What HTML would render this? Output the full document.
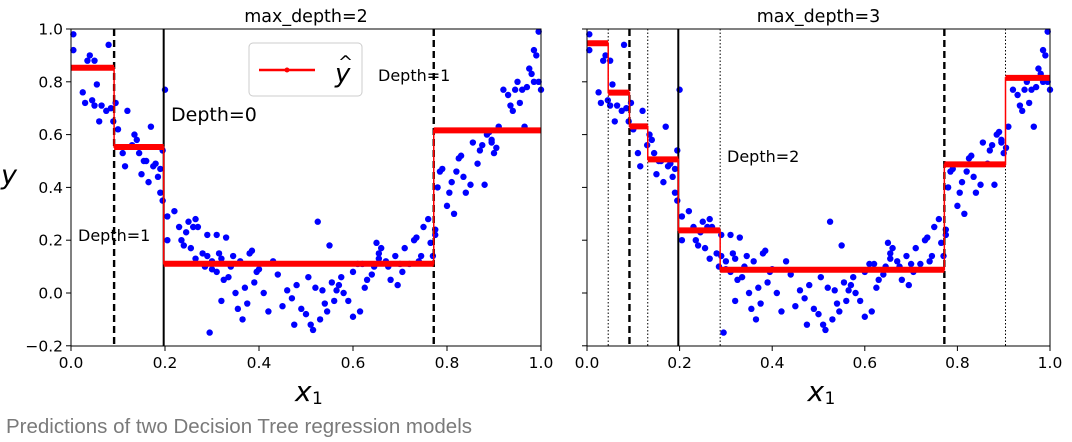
<!DOCTYPE html>
<html><head><meta charset="utf-8"><style>
body{margin:0;background:#fff;width:1072px;height:442px;overflow:hidden;font-family:"DejaVu Sans","Liberation Sans",sans-serif}
svg{position:absolute;left:0;top:0}
#cap{position:absolute;left:6px;top:415px;font-size:20.5px;color:#7a7a7a;font-family:"Liberation Sans",sans-serif}
</style></head><body>
<svg id="chart" width="1072" height="412" xmlns="http://www.w3.org/2000/svg"></svg>
<div id="cap">Predictions of two Decision Tree regression models</div>
<script>
const xs = [0.005,0.005,0.035,0.04,0.05,0.055,0.025,0.045,0.05,0.065,0.075,0.03,0.06,0.08,0.085,0.09,
0.095,0.10,0.11,0.115,0.12,0.13,0.135,0.14,0.145,0.15,0.155,0.16,0.165,0.17,0.175,0.18,0.185,0.19,0.19,0.195,0.195,0.2,
0.205,0.205,0.22,0.23,0.235,0.24,0.245,0.25,0.255,0.26,0.265,0.265,0.27,0.28,0.285,0.29,0.29,0.295,0.30,0.30,0.31,
0.31,0.315,0.32,0.32,0.325,0.33,0.335,0.34,0.345,0.35,0.355,0.36,0.365,0.37,0.375,0.38,0.385,0.39,0.395,0.40,
0.41,0.42,0.43,0.44,0.45,0.46,0.47,0.475,0.48,0.49,0.5,0.505,0.51,0.515,0.52,0.525,0.53,0.535,0.54,0.545,
0.55,0.555,0.56,0.565,0.57,0.575,0.58,0.59,0.60,0.60,0.61,0.615,0.62,0.625,0.63,0.64,0.645,0.65,0.655,0.655,
0.66,0.67,0.675,0.68,0.69,0.695,0.70,0.705,0.71,0.72,0.73,0.735,0.74,0.745,0.75,0.76,0.765,0.77,0.775,0.775,
0.78,0.785,0.79,0.80,0.805,0.81,0.815,0.82,0.825,0.83,0.835,0.84,0.85,0.855,0.865,0.87,0.875,0.88,0.885,0.89,0.895,0.895,0.9,
0.905,0.91,0.92,0.93,0.935,0.94,0.945,0.95,0.955,0.96,0.965,0.97,0.975,0.98,0.985,0.99,0.995,0.995,1.0,0.985];
const ys = [0.98,0.92,0.88,0.9,0.88,0.79,0.76,0.73,0.71,0.71,0.69,0.72,0.65,0.94,0.70,0.65,
0.72,0.62,0.53,0.48,0.69,0.56,0.60,0.58,0.53,0.45,0.50,0.50,0.42,0.63,0.48,0.49,0.44,0.47,0.38,0.35,0.54,0.77,
0.29,0.20,0.31,0.25,0.20,0.18,0.23,0.27,0.17,0.25,0.28,0.13,0.25,0.15,0.10,0.14,0.22,-0.15,0.12,0.09,0.08,
0.22,0.15,0.13,-0.03,0.05,0.21,0.06,0.10,0.14,0.0,-0.06,0.12,-0.1,0.02,-0.04,0.15,0.16,0.04,0.08,0.09,
0.0,-0.07,0.12,0.07,-0.05,0.01,-0.02,-0.12,0.03,-0.06,-0.08,0.06,-0.12,-0.14,0.02,0.27,-0.10,0.01,-0.04,-0.07,
0.18,0.04,-0.03,0.01,0.03,0.06,0.00,-0.03,0.08,-0.09,0.11,-0.07,0.11,0.02,0.05,0.07,0.10,0.19,0.15,0.13,
0.17,0.12,0.10,0.05,0.14,0.03,0.11,0.08,0.17,0.11,0.2,0.21,0.12,0.14,0.25,0.28,0.19,0.14,0.24,0.22,
0.40,0.46,0.47,0.33,0.38,0.42,0.30,0.46,0.51,0.52,0.44,0.38,0.41,0.57,0.49,0.54,0.56,0.41,0.60,0.61,0.58,0.57,0.53,
0.55,0.63,0.77,0.75,0.71,0.69,0.77,0.80,0.72,0.77,0.63,0.78,0.85,0.83,0.80,0.90,0.99,0.80,0.77,0.92];
const splits1 = [0.0917,0.1972,0.7718];
const values1 = [0.853,0.553,0.111,0.616];
const splits2 = [0.0458,0.0917,0.1312,0.1972,0.2876,0.7718,0.9039];
const values2 = [0.946,0.759,0.631,0.506,0.237,0.088,0.487,0.815];
const xTicks = [0,0.2,0.4,0.6,0.8,1.0];
const xTickLabels = ["0.0","0.2","0.4","0.6","0.8","1.0"];
const yTicks = [-0.2,0,0.2,0.4,0.6,0.8,1.0];
const yTickLabels = ["\u22120.2","0.0","0.2","0.4","0.6","0.8","1.0"];

const NS="http://www.w3.org/2000/svg", svg=document.getElementById('chart');
function mk(tag,at,parent,txt){const e=document.createElementNS(NS,tag);for(const k in at)e.setAttribute(k,at[k]);if(txt!==undefined)e.textContent=txt;(parent||svg).appendChild(e);return e;}
const Y0=29,Y1=346; const yS=v=>293-264*v;

function panel(L,R,splits,vals,title,showY,solidIdx,dashIdx,dotIdx,name){
  const g=mk('g',{});  
  const xS=v=>L+(R-L)*v;
  for(let i=0;i<xs.length;i++){const c=mk('circle',{cx:xS(xs[i]),cy:yS(ys[i]),r:3.2,fill:'#0000ff'},g);
    }
  splits.forEach((s,i)=>{
    let at={x1:xS(s),x2:xS(s),y1:Y0,y2:Y1,stroke:'#000'};
    if(solidIdx.includes(i)){at['stroke-width']=2;}
    else if(dashIdx.includes(i)){at['stroke-width']=2.4;at['stroke-dasharray']='7,4';}
    else if(dotIdx.includes(i)){at['stroke-width']=1;at['stroke-dasharray']='1.5,2';}
    else return;
    const l=mk('line',at,g);});
  const b=[0,...splits,1]; let d='';
  vals.forEach((v,i)=>{d+=(i?'L':'M')+xS(b[i])+' '+yS(v)+' L'+xS(b[i+1])+' '+yS(v)+' ';});
  const p=mk('path',{d:d,fill:'none',stroke:'#ff0000','stroke-width':1.5},g);
  
  vals.forEach((v,i)=>{const s=mk('line',{x1:xS(b[i]),x2:xS(b[i+1]),y1:yS(v),y2:yS(v),stroke:'#ff0000','stroke-width':6},g);
    });
  const f=mk('rect',{x:L,y:Y0,width:R-L,height:Y1-Y0,fill:'none',stroke:'#000','stroke-width':1},g);
  
  xTicks.forEach((t,i)=>{mk('line',{x1:xS(t),x2:xS(t),y1:Y1,y2:Y1+5,stroke:'#000'},g);
    const tx=mk('text',{x:xS(t),y:Y1+22,'font-size':15.5,'text-anchor':'middle'},g,xTickLabels[i]);
    });
  yTicks.forEach((t,i)=>{mk('line',{x1:L-5,x2:L,y1:yS(t),y2:yS(t),stroke:'#000'},g);
    if(showY){const tx=mk('text',{x:L-8,y:yS(t)+5.5,'font-size':15.5,'text-anchor':'end'},g,yTickLabels[i]);
    }});
  const tt=mk('text',{x:(L+R)/2,y:22,'font-size':17.5,'text-anchor':'middle'},g,title);
  
  const xl=mk('text',{x:(L+R)/2-11,y:401,'font-size':28,'font-style':'italic','font-family':'DejaVu Sans, sans-serif'},g,'x');
  
  mk('text',{x:(L+R)/2+6,y:404,'font-size':17},g,'1');
  return xS;
}
panel(71,541,splits1,values1,'max_depth=2',true,[1],[0,2],[],'panel-depth-2');
panel(587,1050,splits2,values2,'max_depth=3',false,[3],[1,5],[0,2,4,6],'panel-depth-3');
function lab(x,y,s,t,n){const e=mk('text',{x:x,y:y,'font-size':s},svg,t);}
lab(171,121,19,'Depth=0','depth-0-label');
lab(78,241,16,'Depth=1','depth-1-label-left');
lab(378,81,16,'Depth=1','depth-1-label-right');
lab(727,162,16,'Depth=2','depth-2-label');
const yl=mk('text',{x:1,y:184,'font-size':27,'font-style':'italic','font-family':'DejaVu Sans, sans-serif'},svg,'y');

const lg=mk('g',{});
mk('rect',{x:249,y:43,width:113,height:53,rx:4,fill:'#fff',stroke:'#ccc'},lg);
mk('line',{x1:259,x2:315,y1:70,y2:70,stroke:'#ff0000','stroke-width':2.5},lg);
mk('circle',{cx:287,cy:70,r:2.5,fill:'#ff0000'},lg);
mk('text',{x:335,y:82,'font-size':26,'font-style':'italic','font-family':'DejaVu Sans, sans-serif'},lg,'y');
mk('text',{x:338,y:68,'font-size':18},lg,'^');
</script>
</body></html>
